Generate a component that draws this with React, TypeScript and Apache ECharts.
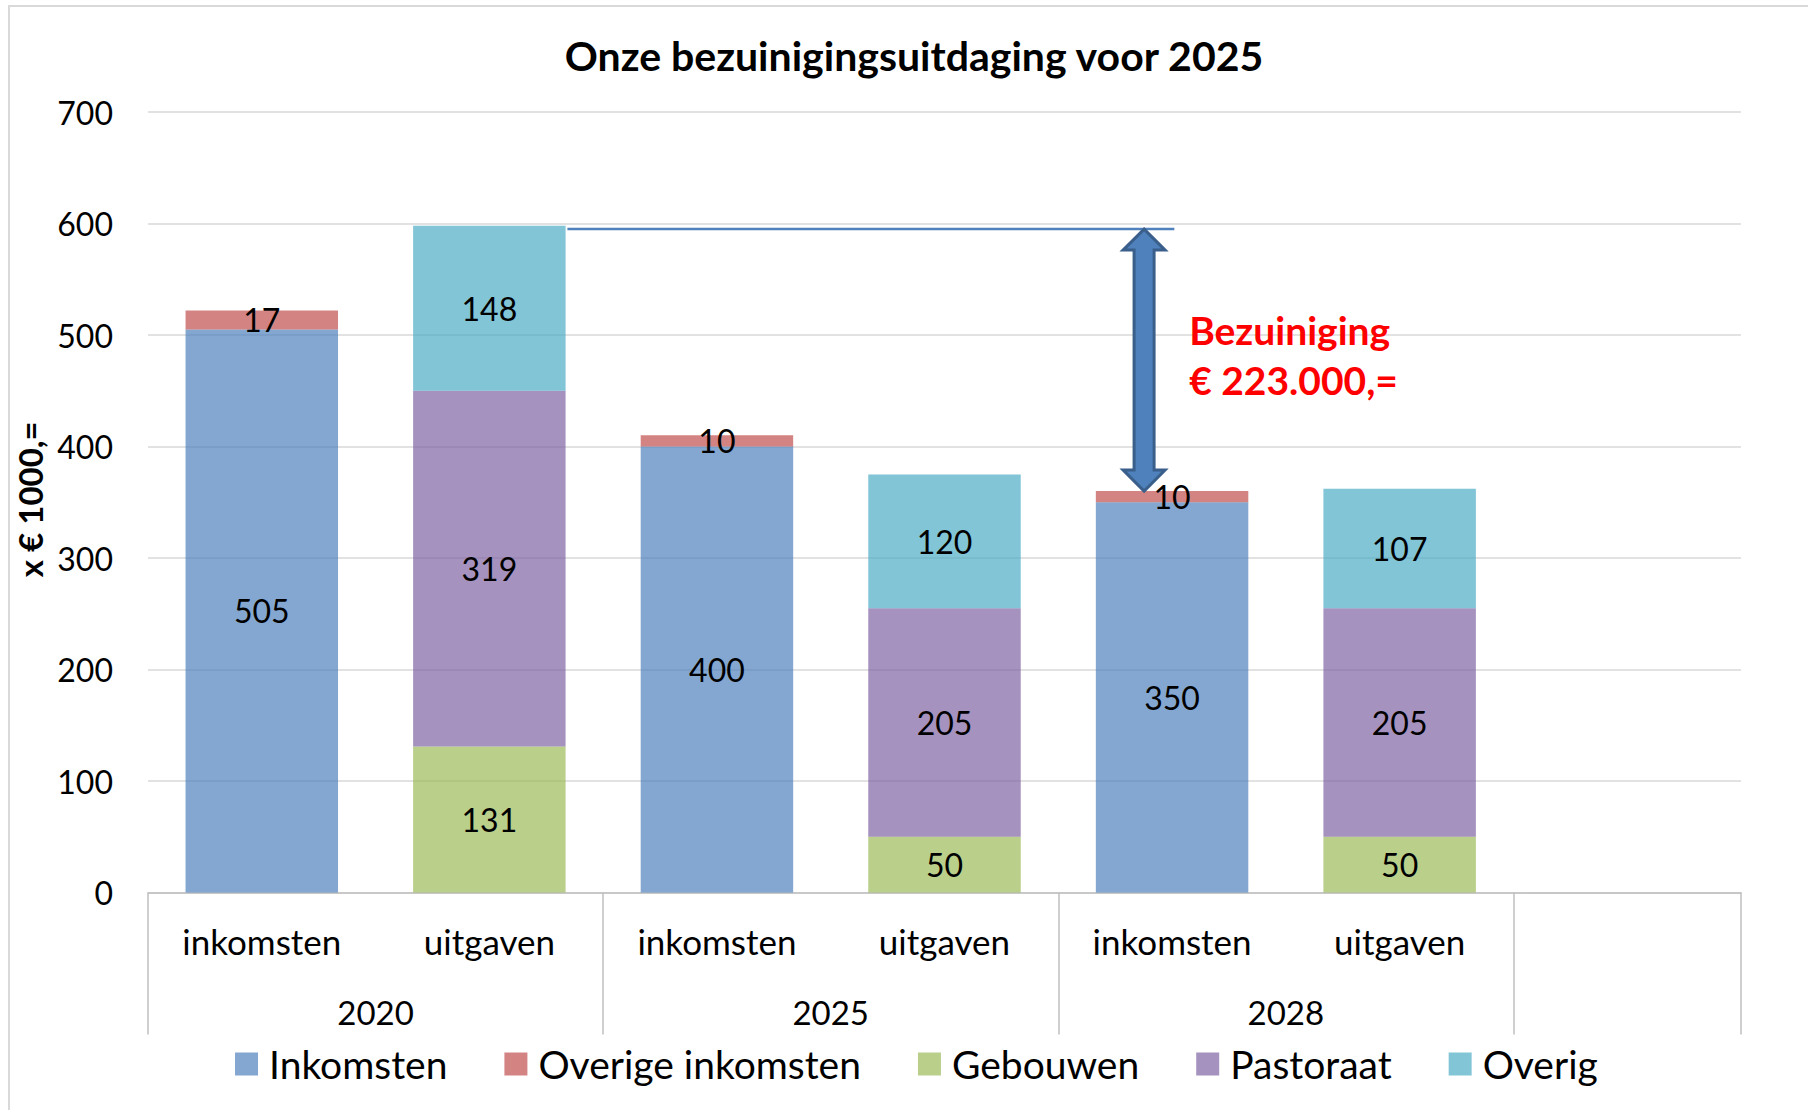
import React, { useEffect, useRef } from "react";
import * as echarts from "echarts";

// ---- data ----
const categories = ["inkomsten", "uitgaven", "inkomsten", "uitgaven", "inkomsten", "uitgaven", ""];
const yearLabels = ["2020", "2025", "2028"];
const seriesNames = ["Inkomsten", "Overige inkomsten", "Gebouwen", "Pastoraat", "Overig"];
const inkomsten = [505, null, 400, null, 350, null, null];
const overigeInkomsten = [17, null, 10, null, 10, null, null];
const gebouwen = [null, 131, null, 50, null, 50, null];
const pastoraat = [null, 319, null, 205, null, 205, null];
const overig = [null, 148, null, 120, null, 107, null];
const yMin = 0;
const yMax = 700;
const yStep = 100;
const titleText = "Onze bezuinigingsuitdaging voor 2025";
const yAxisName = "x € 1000,=";
// annotation (in data units: x on a continuous 0..7 category scale, y in € 1000)
const annotationTop = 595;
const annotationBottom = 360;
const annotationLineFrom = 1.843;
const annotationLineTo = 4.51;
const annotationArrowX = 4.377;
const annotationTextX = 4.575;
const annotationTextY = 482;
const annotationText = "Bezuiniging\n€ 223.000,=";

const colors = ["#4F81BD", "#C0504D", "#9BBB59", "#8064A2", "#4BACC6"];
const FONT = "Lato";

export default function App() {
  const ref = useRef<HTMLDivElement>(null);

  useEffect(() => {
    if (!ref.current) return;
    const chart = echarts.init(ref.current, null, { renderer: "svg" });
    const seriesData = [inkomsten, overigeInkomsten, gebouwen, pastoraat, overig];

    const option: any = {
      animation: false,
      backgroundColor: "#ffffff",
      textStyle: { fontFamily: FONT },
      title: {
        text: titleText,
        left: 914,
        textAlign: "center",
        top: 34,
        padding: 0,
        textStyle: { fontFamily: FONT, fontSize: 41, fontWeight: "bold", color: "#000", lineHeight: 42 },
      },
      grid: { left: 148, right: 67, top: 112, bottom: 217.5, containLabel: false },
      legend: {
        data: seriesNames,
        left: 235,
        top: 1044,
        padding: 0,
        itemWidth: 23,
        itemHeight: 23,
        itemGap: 57,
        icon: "rect",
        textStyle: { fontFamily: FONT, fontSize: 39, color: "#000", lineHeight: 40, padding: [0, 0, 0, 6] },
      },
      xAxis: [
        {
          type: "category",
          data: categories,
          position: "bottom",
          axisLine: { show: true, lineStyle: { color: "#BFBFBF", width: 1.5 } },
          axisTick: { show: false },
          axisLabel: { interval: 0, fontFamily: FONT, fontSize: 35, color: "#000", margin: 31, lineHeight: 35 },
          splitLine: { show: false },
        },
        {
          type: "value",
          min: 0,
          max: 7,
          interval: 1,
          position: "bottom",
          axisLine: { show: false },
          axisTick: { show: false },
          splitLine: { show: false },
          axisLabel: {
            fontFamily: FONT,
            fontSize: 33,
            color: "#000",
            margin: 103,
            lineHeight: 33,
            showMinLabel: true,
            showMaxLabel: true,
            formatter: (v: number) => (v % 2 === 1 && (v - 1) / 2 < yearLabels.length ? yearLabels[(v - 1) / 2] : ""),
          },
        },
        {
          type: "value",
          min: 0,
          max: 7,
          interval: 2,
          position: "bottom",
          axisLine: { show: false },
          axisLabel: { show: false },
          splitLine: { show: false },
          axisTick: { show: true, length: 142, lineStyle: { color: "#BFBFBF", width: 1.5 } },
        },
      ],
      yAxis: {
        type: "value",
        min: yMin,
        max: yMax,
        interval: yStep,
        name: yAxisName,
        nameLocation: "middle",
        nameRotate: 90,
        nameGap: 90,
        nameTextStyle: { fontFamily: FONT, fontSize: 33, fontWeight: "bold", color: "#000", padding: [0, 0, 0, 6] },
        axisLine: { show: false },
        axisTick: { show: false },
        axisLabel: { fontFamily: FONT, fontSize: 32, color: "#000", margin: 35 },
        splitLine: { show: true, lineStyle: { color: "#D9D9D9", width: 1.5 } },
      },
      series: seriesNames.map((name, i) => ({
        name,
        type: "bar",
        stack: "total",
        xAxisIndex: 0,
        yAxisIndex: 0,
        barCategoryGap: "33%",
        data: seriesData[i],
        itemStyle: { color: colors[i], opacity: 0.7 },
        label: {
          show: true,
          position: "inside",
          color: "#000",
          opacity: 1,
          fontFamily: FONT,
          fontSize: 32,
          formatter: (p: any) => (p.value == null ? "" : String(p.value)),
        },
      })),
    };
    chart.setOption(option);

    const px = (x: number) => chart.convertToPixel({ xAxisIndex: 1 }, x) as number;
    const py = (y: number) => chart.convertToPixel({ yAxisIndex: 0 }, y) as number;

    const yTop = py(annotationTop);
    const yBot = py(annotationBottom);
    const cx = px(annotationArrowX);
    const hw = 21;
    const hl = 21;
    const sw = 10;

    chart.setOption({
      graphic: [
        {
          type: "rect",
          shape: { x: 9, y: 6, width: 1840, height: 1140 },
          style: { fill: "none", stroke: "#D9D9D9", lineWidth: 2 },
          silent: true,
        },
        {
          type: "line",
          shape: { x1: px(annotationLineFrom), y1: yTop, x2: px(annotationLineTo), y2: yTop },
          style: { stroke: "#4F81BD", lineWidth: 2.5 },
          z: 10,
        },
        {
          type: "polygon",
          shape: {
            points: [
              [cx, yTop],
              [cx + hw, yTop + hl],
              [cx + sw, yTop + hl],
              [cx + sw, yBot - hl],
              [cx + hw, yBot - hl],
              [cx, yBot],
              [cx - hw, yBot - hl],
              [cx - sw, yBot - hl],
              [cx - sw, yTop + hl],
              [cx - hw, yTop + hl],
            ],
          },
          style: { fill: "#4F81BD", stroke: "#3A5F8B", lineWidth: 3 },
          z: 11,
        },
        {
          type: "text",
          x: px(annotationTextX),
          y: py(annotationTextY),
          style: {
            text: annotationText,
            fill: "#FF0000",
            font: `bold 39px ${FONT}`,
            lineHeight: 50,
            align: "left",
            verticalAlign: "middle",
          },
          z: 12,
        },
      ],
    });

    return () => chart.dispose();
  }, []);

  return (
    <div
      ref={ref}
      style={{ position: "fixed", left: 0, top: 0, width: 1808, height: 1110, background: "#fff" }}
    />
  );
}
